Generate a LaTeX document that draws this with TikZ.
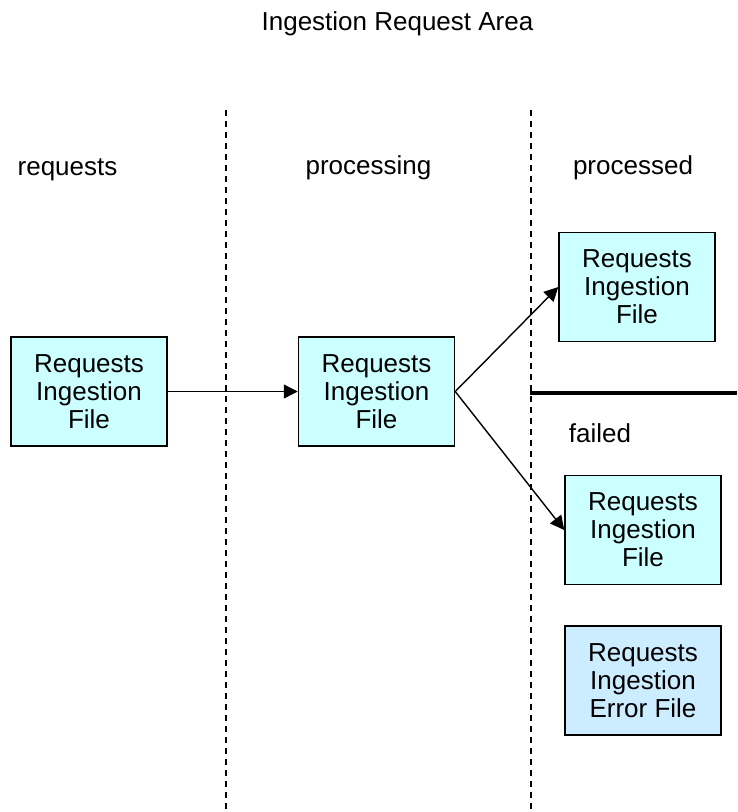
\documentclass[tikz,border=0pt]{standalone}
\usepackage{fontspec}
\setmainfont{Liberation Sans}
\usetikzlibrary{arrows.meta}
\definecolor{filecyan}{HTML}{CCFFFF}
\definecolor{errblue}{HTML}{CCECFF}
\tikzset{
  filebox/.style={draw=black, line width=1.5pt, fill=filecyan, align=center,
    minimum width=156pt, minimum height=109pt, inner sep=0pt,
    font=\fontsize{26}{28}\selectfont},
  errbox/.style={filebox, fill=errblue},
  lbl/.style={font=\fontsize{26}{28}\selectfont, inner sep=0pt, anchor=base},
  lane/.style={dashed, dash pattern=on 6pt off 5pt, line width=1.3pt},
  flow/.style={line width=1.4pt, -{Triangle[length=14pt,width=14pt]}}
}
\begin{document}
\begin{tikzpicture}[x=1pt,y=-1pt]
\useasboundingbox (0,0) rectangle (737,812);
% title and lane headings
\node[lbl] (title) at (397.5,30) {Ingestion Request Area};
\node[lbl] (hreq) at (67.5,175) {requests};
\node[lbl] (hproc) at (368.5,174) {processing};
\node[lbl] (hdone) at (633,174) {processed};
\node[lbl] (hfail) at (600,442) {failed};
% lane separators
\coordinate (s1a) at (226,110); \coordinate (s1b) at (226,812);
\coordinate (s2a) at (531,110); \coordinate (s2b) at (531,812);
\draw[lane] (s1a) -- (s1b);
\draw[lane] (s2a) -- (s2b);
% processed / failed divider
\coordinate (d1) at (530,393); \coordinate (d2) at (737,393);
\draw[line width=4pt] (d1) -- (d2);
% files
\node[filebox] (f1) at (89,391.5) {Requests\\Ingestion\\File};
\node[filebox] (f2) at (376.5,391.5) {Requests\\Ingestion\\File};
\node[filebox] (f3) at (637,287) {Requests\\Ingestion\\File};
\node[filebox] (f4) at (643,530) {Requests\\Ingestion\\File};
\node[errbox] (f5) at (643,680.5) {Requests\\Ingestion\\Error File};
% moves between lanes
\draw[flow] (f1.east) -- (f2.west);
\draw[flow] (f2.east) -- (f3.west);
\draw[flow] (f2.east) -- (f4.west);
\end{tikzpicture}
\end{document}
